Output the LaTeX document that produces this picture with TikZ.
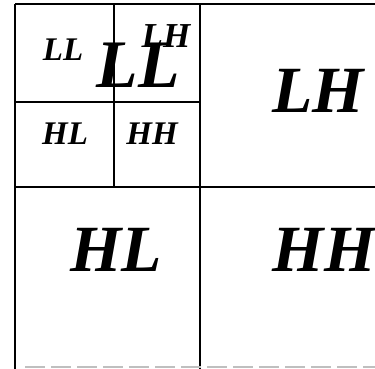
\documentclass[tikz,border=0pt]{standalone}
\usepackage{fontspec}
\setmainfont{Liberation Serif}
\tikzset{
  band/.style={font=\fontsize{#1}{#1}\selectfont\bfseries\itshape, inner sep=0pt, anchor=center},
  edge/.style={line width=2.3pt, black},
}
\begin{document}
\begin{tikzpicture}[x=1pt, y=-1pt]
\useasboundingbox (0,0) rectangle (375,369);

% grid lines
\draw[edge] (15,4) -- (380,4);
\draw[edge] (15,4) -- (15,369);
\draw[edge] (200,4) -- (200,369);
\draw[edge] (15,187) -- (380,187);
\draw[edge] (15,102) -- (200,102);
\draw[edge] (114,4) -- (114,187);
\draw[gray!50, line width=1.5pt, dash pattern=on 20pt off 6pt] (25,367) -- (375,367);

% level two
\node[band=33] (ll2) at (63,50) {LL};
\node[band=35] (lh2) at (166,36) {LH};
\node[band=33] (hl2) at (65,134) {HL};
\node[band=33] (hh2) at (152,134) {HH};
\node[band=68] (ll1) at (138,65) {LL};

% level one
\node[band=66] (lh1) at (318,91) {LH};
\node[band=66] (hl1) at (116,250) {HL};
\node[band=66] (hh1) at (324,250) {HH};

\end{tikzpicture}
\end{document}
